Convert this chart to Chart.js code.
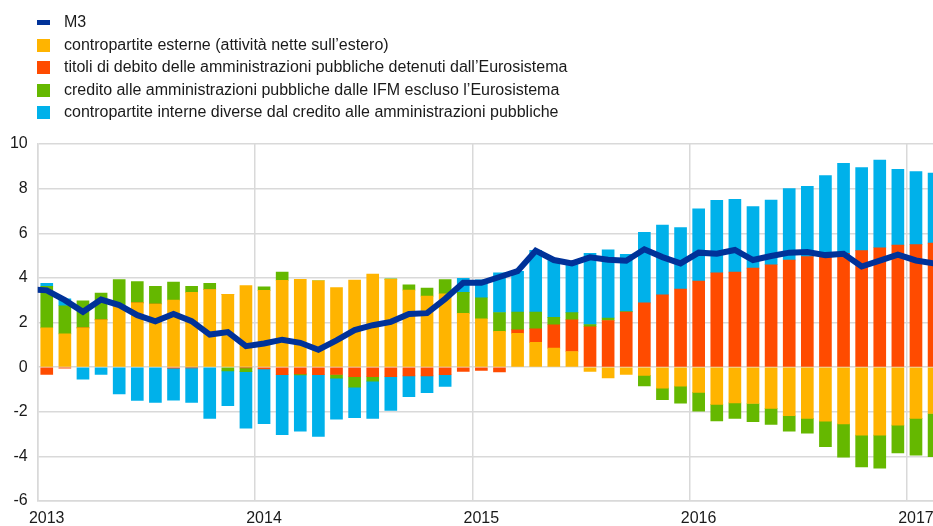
<!DOCTYPE html>
<html>
<head>
<meta charset="utf-8">
<script src="https://cdn.jsdelivr.net/npm/chart.js@4"></script>
<style>
  html, body { margin: 0; padding: 0; background: #fff; }
  #wrap { position: relative; width: 933px; height: 526px; overflow: hidden; font-family: "Liberation Sans", Arial, sans-serif; }
  #chart { position: absolute; left: 0; top: 0; }
  #legend { position: absolute; left: 37px; top: 11px; color: #1a1a1a; font-size: 16px; }
  .item { position: relative; height: 22.6px; line-height: 22.6px; padding-left: 27px; white-space: nowrap; }
  .mark { position: absolute; left: 0; top: 5px; width: 13px; height: 13px; }
  .mark.line { top: 9px; width: 13px; height: 5px; }
</style>
</head>
<body>
<div id="wrap">
  <canvas id="chart" width="933" height="526"></canvas>
  <div id="legend"></div>
</div>
<script>
// contributi alla crescita di M3, gen 2013 - feb 2017 (punti percentuali)
const YEAR_LABELS = ["2013", "2014", "2015", "2016", "2017"]

// M3: dic 2012 .. feb 2017
const m3 = [3.50, 3.44, 3.00, 2.48, 3.03, 2.78, 2.33, 2.05, 2.38, 2.06, 1.46, 1.57, 0.94,
  1.06, 1.23, 1.09, 0.78, 1.20, 1.66, 1.88, 2.03, 2.38, 2.42, 3.06, 3.78,
  3.78, 4.04, 4.30, 5.22, 4.80, 4.65, 4.92, 4.81, 4.77, 5.28, 4.93, 4.65,
  5.13, 5.08, 5.25, 4.80, 4.98, 5.13, 5.16, 5.02, 5.08, 4.51, 4.77, 5.04,
  4.78, 4.65]

// gen 2013 .. feb 2017
const esterne = [1.76, 1.49, 1.76, 2.12, 2.73, 2.88, 2.83, 3.00, 3.35, 3.48, 3.26, 3.66,
  3.44, 3.89, 3.93, 3.87, 3.56, 3.90, 4.17, 3.93, 3.45, 3.18, 3.29, 2.41,
  2.17, 1.60, 1.51, 1.11, 0.85, 0.70, -0.19, -0.48, -0.33, -0.37, -0.94, -0.85,
  -1.13, -1.67, -1.60, -1.63, -1.85, -2.18, -2.30, -2.42, -2.54, -3.05, -3.05, -2.60,
  -2.30, -2.08]
const titoliEurosistema = [-0.33, -0.05, 0, 0, 0, 0, 0, -0.05, -0.03, 0, 0, -0.03,
  -0.08, -0.34, -0.30, -0.34, -0.33, -0.43, -0.43, -0.43, -0.39, -0.39, -0.34, -0.19,
  -0.15, -0.21, 0.16, 0.61, 1.05, 1.42, 1.81, 2.09, 2.47, 2.88, 3.24, 3.50,
  3.86, 4.23, 4.26, 4.44, 4.59, 4.80, 4.95, 4.98, 5.10, 5.22, 5.35, 5.47,
  5.49, 5.56]
const creditoIfm = [1.86, 1.26, 1.21, 1.20, 1.19, 0.95, 0.79, 0.81, 0.27, 0.27, -0.17, -0.17,
  0.16, 0.37, -0.05, 0, -0.16, -0.47, -0.20, 0.03, 0.24, 0.36, 0.63, 0.94,
  0.94, 0.85, 0.80, 0.75, 0.33, 0.32, 0.10, 0.11, 0.02, -0.47, -0.52, -0.76,
  -0.84, -0.74, -0.70, -0.81, -0.72, -0.69, -0.66, -1.14, -1.50, -1.42, -1.48, -1.24,
  -1.65, -1.93]
const interne = [0.13, 0.31, -0.54, -0.33, -1.20, -1.49, -1.58, -1.43, -1.55, -2.30, -1.56, -2.54,
  -2.45, -2.69, -2.52, -2.77, -1.84, -1.36, -1.67, -1.51, -0.93, -0.75, -0.53, 0.63,
  0.80, 1.78, 1.82, 2.76, 2.54, 2.16, 3.19, 3.06, 2.56, 3.16, 3.13, 2.75,
  3.23, 3.24, 3.26, 2.75, 2.90, 3.20, 3.15, 3.60, 4.03, 3.72, 3.93, 3.39,
  3.27, 3.14]

const BLUE = "#003299"
const YELLOW = "#ffb400"
const ORANGE = "#ff4b00"
const GREEN = "#65b800"
const CYAN = "#00b1ea"

// mese i -> centro della barra
const barPts = arr => arr.map((v, i) => ({ x: i + 0.5, y: v }))
const linePts = m3.map((v, i) => ({ x: i - 0.5, y: v }))

const bar = (label, data, color) => ({
  type: "bar", label, data: barPts(data), backgroundColor: color,
  barThickness: 12, order: 1, clip: 0
})

const datasets = [
  { type: "line", label: "M3", data: linePts, borderColor: BLUE, backgroundColor: BLUE,
    borderWidth: 6, pointRadius: 0, tension: 0, order: 0, clip: 0, stack: "m3",
    borderJoinStyle: "miter" },
  bar("contropartite esterne (attività nette sull’estero)", esterne, YELLOW),
  bar("titoli di debito delle amministrazioni pubbliche detenuti dall’Eurosistema", titoliEurosistema, ORANGE),
  bar("credito alle amministrazioni pubbliche dalle IFM escluso l’Eurosistema", creditoIfm, GREEN),
  bar("contropartite interne diverse dal credito alle amministrazioni pubbliche", interne, CYAN)
]

const legend = document.getElementById("legend")
datasets.forEach(ds => {
  const row = document.createElement("div")
  row.className = "item"
  const mark = document.createElement("span")
  mark.className = ds.type === "line" ? "mark line" : "mark"
  mark.style.background = ds.type === "line" ? ds.borderColor : ds.backgroundColor
  row.appendChild(mark)
  row.appendChild(document.createTextNode(ds.label))
  legend.appendChild(row)
})

const GRID = "#d9d9d9"
const FONT = { family: "'Liberation Sans', Arial, sans-serif", size: 16 }

new Chart(document.getElementById("chart"), {
  data: { datasets },
  options: {
    responsive: false,
    animation: false,
    events: [],
    layout: { padding: { top: 144, right: 0, left: 0, bottom: 0 } },
    plugins: { legend: { display: false }, tooltip: { enabled: false } },
    scales: {
      x: {
        type: "linear", stacked: true, min: 0, max: 49.44, offset: false,
        // una linea ogni gennaio
        afterBuildTicks: s => { s.ticks = YEAR_LABELS.map((_, k) => ({ value: k * 12 })) },
        afterFit: s => { s.height = 25 },
        grid: { color: GRID, lineWidth: 1.5, drawTicks: false, offset: false },
        border: { color: GRID, width: 1.5 },
        ticks: {
          color: "#1a1a1a", font: FONT, padding: 8, labelOffset: 9,
          maxRotation: 0, autoSkip: false,
          callback: v => YEAR_LABELS[v / 12] ?? ""
        }
      },
      y: {
        stacked: true, min: -6, max: 10,
        afterFit: s => { s.width = 37.7 },
        grid: { color: GRID, lineWidth: 1.5, drawTicks: false },
        border: { color: GRID, width: 1.5 },
        ticks: { stepSize: 2, color: "#1a1a1a", font: FONT, padding: 10 }
      }
    }
  }
})
</script>
</body>
</html>
